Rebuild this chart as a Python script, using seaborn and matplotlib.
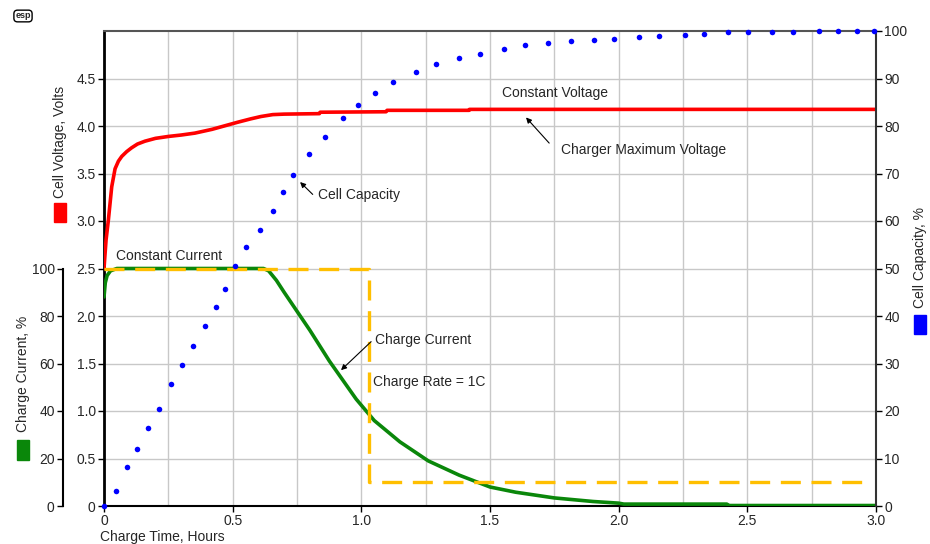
import matplotlib
matplotlib.use("Agg")
import matplotlib.pyplot as plt
from matplotlib.patches import Rectangle
import numpy as np
import pandas as pd
import seaborn as sns

# ---------------- data ----------------
volt_t = [0, 0.008, 0.017, 0.03, 0.043, 0.056, 0.069, 0.088, 0.107, 0.13, 0.159, 0.2,
          0.25, 0.3, 0.353, 0.42, 0.48, 0.52, 0.57, 0.61, 0.656, 0.70, 0.837, 0.84,
          1.096, 1.10, 1.419, 1.42, 3.0]
volt_v = [2.50, 2.80, 3.01, 3.36, 3.55, 3.63, 3.68, 3.73, 3.77, 3.81, 3.84, 3.87,
          3.89, 3.905, 3.925, 3.965, 4.01, 4.04, 4.075, 4.10, 4.12, 4.125, 4.13, 4.145,
          4.15, 4.165, 4.165, 4.175, 4.175]

cur_t = [0, 0.005, 0.012, 0.025, 0.05, 0.62, 0.64, 0.67, 0.70, 0.75, 0.80, 0.876,
         0.98, 1.05, 1.15, 1.26, 1.38, 1.5, 1.6, 1.75, 1.9, 2.0, 2.02, 2.42, 2.43, 3.0]
cur_pct = [88, 94, 97, 99, 100, 100, 99, 95, 90, 82, 74, 61,
           45, 36, 27, 19, 13, 8, 5.8, 3.4, 1.9, 1.2, 0.8, 0.8, 0.2, 0.2]

rate_t = [0, 1.03, 1.03, 2.98]
rate_pct = [100, 100, 10, 10]

cap_t = [0, 0.0465, 0.089, 0.128, 0.171, 0.213, 0.260, 0.302, 0.345, 0.391, 0.434,
         0.469, 0.508, 0.550, 0.605, 0.655, 0.694, 0.733, 0.798, 0.860, 0.930, 0.988,
         1.054, 1.124, 1.213, 1.291, 1.380, 1.461, 1.554, 1.636, 1.725, 1.814, 1.903,
         1.981, 2.078, 2.155, 2.256, 2.333, 2.426, 2.504, 2.597, 2.678, 2.779, 2.853,
         2.926, 2.992]
cap_pct = [0, 3.2, 8.2, 12.1, 16.5, 20.5, 25.6, 29.6, 33.6, 37.8, 41.9,
           45.7, 50.5, 54.5, 58.1, 62.2, 66.2, 69.6, 74.2, 77.6, 81.6, 84.4,
           86.9, 89.2, 91.3, 93.0, 94.3, 95.1, 96.2, 97.0, 97.5, 97.8, 98.1,
           98.4, 98.7, 98.9, 99.2, 99.4, 99.7, 99.7, 99.7, 99.7, 100, 100,
           100, 100]

x_ticks = [0, 0.5, 1.0, 1.5, 2.0, 2.5, 3.0]
x_labels = ["0", "0.5", "1.0", "1.5", "2.0", "2.5", "3.0"]
v_ticks = [0, 0.5, 1.0, 1.5, 2.0, 2.5, 3.0, 3.5, 4.0, 4.5]
v_labels = ["0", "0.5", "1.0", "1.5", "2.0", "2.5", "3.0", "3.5", "4.0", "4.5"]
cur_ticks = [0, 20, 40, 60, 80, 100]
cap_ticks = [0, 10, 20, 30, 40, 50, 60, 70, 80, 90, 100]

# ---------------- style ----------------
sns.set_style("white")
plt.rcParams['font.family'] = ['Liberation Sans', 'DejaVu Sans']
FS = 10

W, H = 930, 544
fig = plt.figure(figsize=(W / 100, H / 100), dpi=100)
fig.patch.set_facecolor("white")
L, R, B, T = 104, 876, 506, 31
ax = fig.add_axes([L / W, 1 - B / H, (R - L) / W, (B - T) / H])

# main (voltage) axis
ax.set_xlim(0, 3)
ax.set_ylim(0, 5)
ax.set_xticks(x_ticks)
ax.set_xticklabels(x_labels, fontsize=FS)
ax.set_xticks(np.arange(0.25, 3.0, 0.5), minor=True)
ax.set_yticks(v_ticks)
ax.set_yticklabels(v_labels, fontsize=FS)
ax.grid(True, which="both", color="#c8c8c8", lw=1.0)
ax.tick_params(axis="both", which="major", length=4, width=1, color="black", pad=2,
               direction="out", left=True, bottom=True)
ax.tick_params(axis="x", which="minor", length=0)
ax.spines["left"].set_color("black"); ax.spines["left"].set_linewidth(2)
ax.spines["bottom"].set_color("black"); ax.spines["bottom"].set_linewidth(1.5)
ax.spines["top"].set_color("#555555"); ax.spines["top"].set_linewidth(1.5)
ax.spines["right"].set_visible(False)
ax.set_axisbelow(True)

sns.lineplot(x=volt_t, y=volt_v, ax=ax, color="#ff0000", lw=2.6, sort=False,
             estimator=None, zorder=3)

# current axis (left, offset)
ax_cur = ax.twinx()
ax_cur.set_ylim(0, 200)
ax_cur.yaxis.tick_left()
ax_cur.yaxis.set_label_position("left")
for s in ["right", "top", "bottom"]:
    ax_cur.spines[s].set_visible(False)
ax_cur.spines["left"].set_visible(True)
ax_cur.spines["left"].set_position(("outward", 29.5))
ax_cur.spines["left"].set_bounds(0, 100)
ax_cur.spines["left"].set_color("black")
ax_cur.spines["left"].set_linewidth(1.5)
ax_cur.set_yticks(cur_ticks)
ax_cur.set_yticklabels([str(v) for v in cur_ticks], fontsize=FS)
ax_cur.tick_params(axis="y", length=4, width=1, color="black", pad=2, left=True, right=False)
ax_cur.grid(False)

sns.lineplot(x=cur_t, y=cur_pct, ax=ax_cur, color="#0a870a", lw=2.6, sort=False,
             estimator=None, zorder=3)
sns.lineplot(x=rate_t, y=rate_pct, ax=ax_cur, color="#ffbf00", lw=2.4, sort=False,
             estimator=None, zorder=4)
ax_cur.lines[-1].set_dashes([6, 3.2])
ax_cur.set_xlim(0, 3)

# capacity axis (right)
ax_cap = ax.twinx()
ax_cap.set_ylim(0, 100)
ax_cap.set_yticks(cap_ticks)
ax_cap.set_yticklabels([str(v) for v in cap_ticks], fontsize=FS)
for s in ["left", "top", "bottom"]:
    ax_cap.spines[s].set_visible(False)
ax_cap.spines["right"].set_color("#333333")
ax_cap.spines["right"].set_linewidth(1.5)
ax_cap.tick_params(axis="y", length=4, width=1, color="black", pad=2, right=True, left=False)
ax_cap.grid(False)
sns.scatterplot(x=cap_t, y=cap_pct, ax=ax_cap, color="#0000ff", s=16, linewidth=0,
                zorder=5, clip_on=False)
ax_cap.set_xlim(0, 3)
for a in (ax, ax_cur, ax_cap):
    a.set_xlabel("")
    a.set_ylabel("")

# ---------------- annotations ----------------
arrow = dict(arrowstyle="-|>", color="black", lw=0.8, mutation_scale=8, shrinkA=0, shrinkB=0)
ax_cap.text(0.047, 100 * 2.63 / 5, "Constant Current", fontsize=FS, ha="left", va="center")
ax_cap.text(1.547, 100 * 4.35 / 5, "Constant Voltage", fontsize=FS, ha="left", va="center")
ax_cap.text(1.775, 100 * 3.75 / 5, "Charger Maximum Voltage", fontsize=FS, ha="left", va="center")
ax_cap.annotate("", xy=(1.64, 100 * 4.09 / 5), xytext=(1.73, 100 * 3.82 / 5), arrowprops=arrow)
ax_cap.text(0.833, 100 * 3.27 / 5, "Cell Capacity", fontsize=FS, ha="left", va="center")
ax_cap.annotate("", xy=(0.762, 100 * 3.41 / 5), xytext=(0.811, 100 * 3.28 / 5), arrowprops=arrow)
ax_cap.text(1.054, 100 * 1.75 / 5, "Charge Current", fontsize=FS, ha="left", va="center")
ax_cap.annotate("", xy=(0.921, 100 * 1.43 / 5), xytext=(1.038, 100 * 1.73 / 5), arrowprops=arrow)
ax_cap.text(1.045, 100 * 1.31 / 5, "Charge Rate = 1C", fontsize=FS, ha="left", va="center")

# axis titles with colour keys
def key_label(xc, ybottom, sq_top, sq_h, text, color):
    fig.text(xc / W, 1 - ybottom / H, text, rotation=90, ha="center", va="bottom", fontsize=FS)
    fig.patches.append(Rectangle(((xc - 6) / W, 1 - (sq_top + sq_h) / H), 12 / W, sq_h / H,
                                 transform=fig.transFigure, color=color, figure=fig))

key_label(60, 198, 203, 19, "Cell Voltage, Volts", "#ff0000")
key_label(23, 432, 440, 20, "Charge Current, %", "#0a870a")
key_label(920, 308, 315, 19, "Cell Capacity, %", "#0000ff")

fig.text(100 / W, 1 - 537 / H, "Charge Time, Hours", ha="left", va="center", fontsize=FS)
fig.text(23 / W, 1 - 16 / H, "esp", ha="center", va="center", fontsize=6.5, fontweight="bold",
         bbox=dict(boxstyle="round,pad=0.15,rounding_size=0.4", fc="white", ec="black", lw=1))

fig.savefig("out.png", dpi=100, facecolor="white")
